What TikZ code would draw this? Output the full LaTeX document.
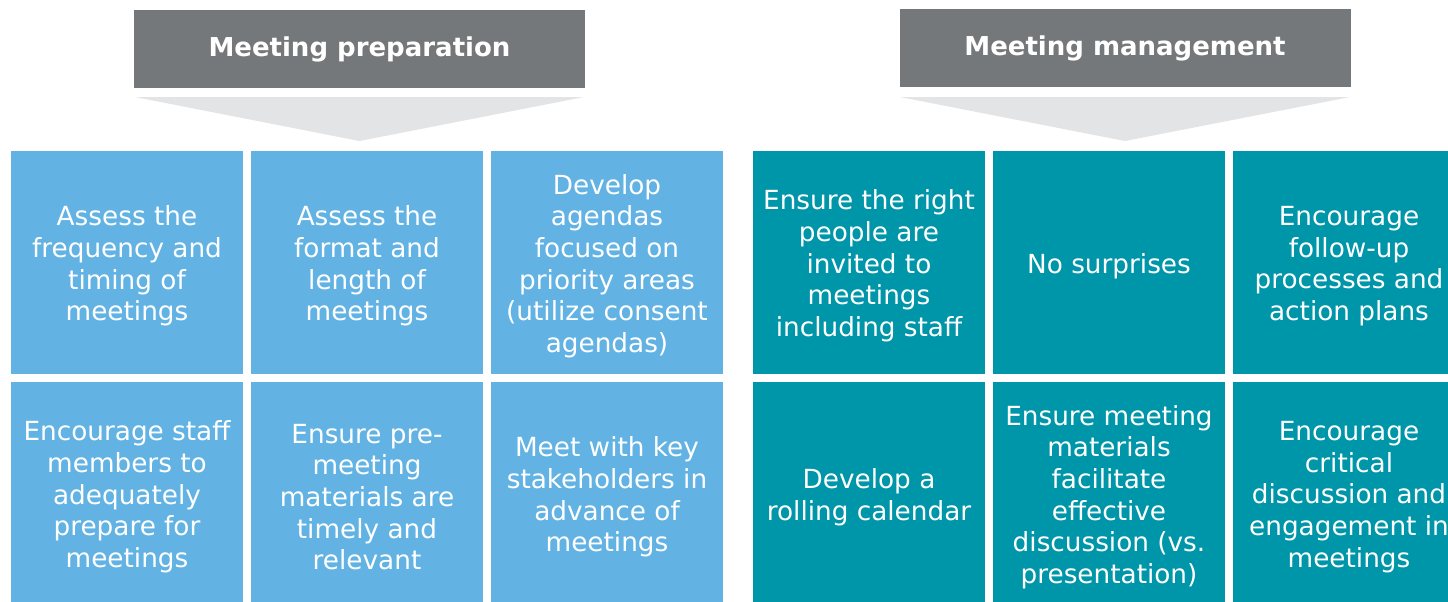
\documentclass[tikz,border=0pt]{standalone}
\usepackage{fontspec}
\setmainfont{DejaVu Sans}
\definecolor{headgray}{HTML}{75787B}
\definecolor{chevgray}{HTML}{E2E4E6}
\definecolor{prepblue}{HTML}{62B3E4}
\definecolor{mgmtteal}{HTML}{0096A9}
\tikzset{
  header/.style={rectangle, fill=headgray, text=white, inner sep=0pt,
    minimum width=451pt, minimum height=78pt,
    font=\bfseries\fontsize{26}{31}\selectfont},
  cell/.style={rectangle, inner sep=0pt,
    minimum width=232pt, minimum height=223pt},
  prepcell/.style={cell, fill=prepblue},
  mgmtcell/.style={cell, fill=mgmtteal},
  celltext/.style={text=white, inner sep=0pt, align=center,
    font=\fontsize{26.3}{31.7}\selectfont},
  chevron/.style={fill=chevgray},
}
% cell: #1 style, #2 name, #3 position, #4 text
\newcommand{\gridcell}[4]{%
  \node[#1] (#2) at #3 {};
  \node[celltext] (#2t) at ([yshift=-3.5pt]#2.center) {#4};
}
\begin{document}
\begin{tikzpicture}[x=1pt,y=-1pt]
\useasboundingbox (0,0) rectangle (1448,602);
\fill[white] (0,0) rectangle (1448,602);

% headers
\node[header] (hp) at (359.5,49) {Meeting preparation};
\node[header] (hm) at (1125,48) {Meeting management};

% downward chevrons under the headers
\fill[chevron] (135,97) -- (584,97) -- (359.5,141) -- cycle;
\fill[chevron] (900,97) -- (1350,97) -- (1125,141) -- cycle;

% meeting preparation grid
\gridcell{prepcell}{p11}{(127,262.5)}{Assess the\\frequency and\\timing of\\meetings}
\gridcell{prepcell}{p12}{(367,262.5)}{Assess the\\format and\\length of\\meetings}
\gridcell{prepcell}{p13}{(607,262.5)}{Develop\\agendas\\focused on\\priority areas\\(utilize consent\\agendas)}
\gridcell{prepcell}{p21}{(127,493.5)}{Encourage staff\\members to\\adequately\\prepare for\\meetings}
\gridcell{prepcell}{p22}{(367,493.5)}{Ensure pre-\\meeting\\materials are\\timely and\\relevant}
\gridcell{prepcell}{p23}{(607,493.5)}{Meet with key\\stakeholders in\\advance of\\meetings}

% meeting management grid
\gridcell{mgmtcell}{m11}{(869,262.5)}{Ensure the right\\people are\\invited to\\meetings\\including staff}
\gridcell{mgmtcell}{m12}{(1109,262.5)}{No surprises}
\gridcell{mgmtcell}{m13}{(1349,262.5)}{Encourage\\follow-up\\processes and\\action plans}
\gridcell{mgmtcell}{m21}{(869,493.5)}{Develop a\\rolling calendar}
\gridcell{mgmtcell}{m22}{(1109,493.5)}{Ensure meeting\\materials\\facilitate\\effective\\discussion (vs.\\presentation)}
\gridcell{mgmtcell}{m23}{(1349,493.5)}{Encourage\\critical\\discussion and\\engagement in\\meetings}
\end{tikzpicture}
\end{document}
